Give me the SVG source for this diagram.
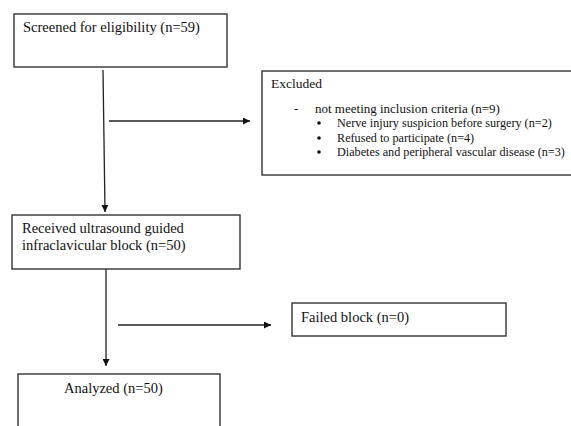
<svg xmlns="http://www.w3.org/2000/svg" width="571" height="426" viewBox="0 0 571 426">
<defs>
<style>
.box{fill:#fff;stroke:#333;stroke-width:1.4}
.ln{fill:none;stroke:#222;stroke-width:1.3}
text{font-family:"Liberation Serif","Times New Roman",serif;fill:#111}
.t{font-size:14.5px}
.s{font-size:12.2px}
.h{font-size:13.5px}
.m{font-size:13px}
</style>
<marker id="ah" viewBox="0 0 10 10" refX="10" refY="5" markerWidth="7" markerHeight="7" markerUnits="userSpaceOnUse" orient="auto">
<path d="M0,0 L10,5 L0,10 Z" fill="#111"/>
</marker>
</defs>
<rect width="571" height="426" fill="#fff"/>
<g id="connectors">
<line class="ln" x1="103" y1="70" x2="105" y2="212" marker-end="url(#ah)"/>
<line class="ln" x1="109" y1="121" x2="250" y2="121" marker-end="url(#ah)"/>
<line class="ln" x1="106" y1="269" x2="106" y2="366" marker-end="url(#ah)"/>
<line class="ln" x1="118" y1="325" x2="271" y2="325" marker-end="url(#ah)"/>
</g>
<g id="screened">
<rect class="box" x="14" y="14" width="213" height="53"/>
<text class="t" x="23" y="32">Screened for eligibility (n=59)</text>
</g>
<g id="excluded">
<rect class="box" x="262" y="71" width="320" height="104"/>
<text class="h" x="271" y="88">Excluded</text>
<text class="m" x="294" y="113">-</text>
<text class="m" x="315" y="113">not meeting inclusion criteria (n=9)</text>
<circle cx="319" cy="123" r="1.8" fill="#111"/>
<circle cx="319" cy="138" r="1.8" fill="#111"/>
<circle cx="319" cy="152" r="1.8" fill="#111"/>
<text class="s" x="337" y="127">Nerve injury suspicion before surgery (n=2)</text>
<text class="s" x="337" y="142">Refused to participate (n=4)</text>
<text class="s" x="337" y="156">Diabetes and peripheral vascular disease (n=3)</text>
</g>
<g id="received">
<rect class="box" x="12" y="215" width="228" height="54"/>
<text class="t" x="22" y="233">Received ultrasound guided</text>
<text class="t" x="22" y="250">infraclavicular block (n=50)</text>
</g>
<g id="failed">
<rect class="box" x="292" y="303" width="214" height="33"/>
<text class="t" x="301" y="322">Failed block (n=0)</text>
</g>
<g id="analyzed">
<rect class="box" x="18" y="374" width="202" height="70"/>
<text class="t" x="64" y="393">Analyzed (n=50)</text>
</g>
</svg>
